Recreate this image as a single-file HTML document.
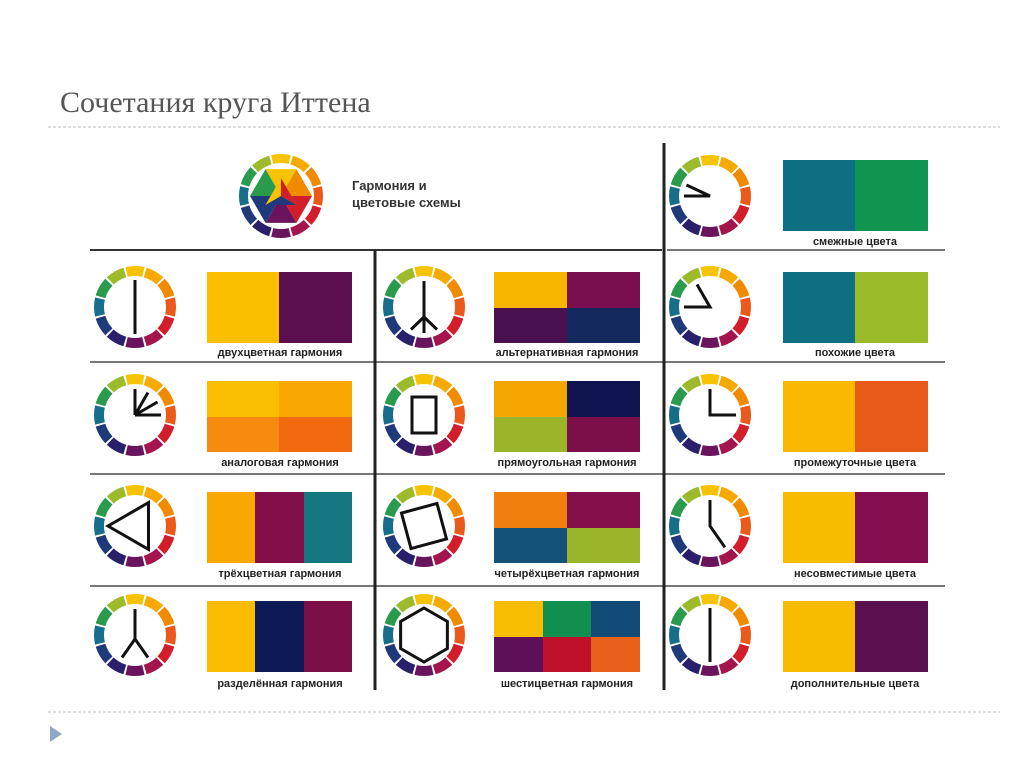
<!DOCTYPE html>
<html><head><meta charset="utf-8">
<style>
html,body{margin:0;padding:0;background:#fff;}
svg{display:block}
.l{font-family:"Liberation Sans",sans-serif;font-weight:bold;font-size:11px;fill:#222;text-anchor:middle}
</style></head><body>
<svg id="s" width="1024" height="767" xmlns="http://www.w3.org/2000/svg">
<text x="60" y="112" font-family="Liberation Serif, serif" font-size="30" fill="#555">Сочетания круга Иттена</text>
<line x1="48" y1="127" x2="1000" y2="127" stroke="#bbb" stroke-dasharray="3,2"/>
<line x1="48" y1="712" x2="1000" y2="712" stroke="#bbb" stroke-dasharray="3,2"/>
<polygon points="50,726 50,742 62,734" fill="#8fa8c8"/>
<g stroke-width="2">
<line x1="90" y1="250" x2="662" y2="250" stroke="#333"/>
<line x1="667" y1="250" x2="945" y2="250" stroke="#777"/>
<line x1="90" y1="362" x2="945" y2="362" stroke="#777"/>
<line x1="90" y1="474" x2="945" y2="474" stroke="#777"/>
<line x1="90" y1="586" x2="945" y2="586" stroke="#777"/>
<line x1="375" y1="250" x2="375" y2="690" stroke="#222" stroke-width="3"/>
<line x1="664" y1="143" x2="664" y2="690" stroke="#222" stroke-width="3"/>
</g>
<text x="352" y="190" font-family="Liberation Sans,sans-serif" font-weight="bold" font-size="13" fill="#333">Гармония и</text>
<text x="352" y="207" font-family="Liberation Sans,sans-serif" font-weight="bold" font-size="13" fill="#333">цветовые схемы</text>
<text class="l" x="280" y="356">двухцветная гармония</text>
<text class="l" x="280" y="466">аналоговая гармония</text>
<text class="l" x="280" y="577">трёхцветная гармония</text>
<text class="l" x="280" y="687">разделённая гармония</text>
<text class="l" x="567" y="356">альтернативная гармония</text>
<text class="l" x="567" y="466">прямоугольная гармония</text>
<text class="l" x="567" y="577">четырёхцветная гармония</text>
<text class="l" x="567" y="687">шестицветная гармония</text>
<text class="l" x="855" y="245">смежные цвета</text>
<text class="l" x="855" y="356">похожие цвета</text>
<text class="l" x="855" y="466">промежуточные цвета</text>
<text class="l" x="855" y="577">несовместимые цвета</text>
<text class="l" x="855" y="687">дополнительные цвета</text>
<g id="g"></g>
</svg>
<script>
var g=document.getElementById('g'),h='';
var C=['#f7c300','#f6a900','#f08b00','#ea5a1a','#d21d2a','#a3154c','#6a145e','#3b1f6e','#1f2f72','#175d85','#178a8a','#2c9a4a'];
C=['#f7c300','#f6a900','#f08b00','#ea5a1a','#d21d2a','#a3154c','#6a145e','#2a1f6a','#1f3a7a','#166e8a','#2a9a4c','#9dba2a'];
function P(cx,cy,r,a){a=a*Math.PI/180;return [cx+r*Math.sin(a),cy-r*Math.cos(a)];}
function wheel(cx,cy,ro,ri){for(var i=0;i<12;i++){var a0=i*30-15+1.5,a1=i*30+15-1.5;var p1=P(cx,cy,ro,a0),p2=P(cx,cy,ro,a1),p3=P(cx,cy,ri,a1),p4=P(cx,cy,ri,a0);
h+='<path d="M'+p1+'A'+ro+' '+ro+' 0 0 1 '+p2+'L'+p3+'A'+ri+' '+ri+' 0 0 0 '+p4+'Z" fill="'+C[i]+'"/>';}}
function pl(pts,close){h+='<'+(close?'polygon':'polyline')+' points="'+pts.map(function(p){return p.join(',')}).join(' ')+'" fill="none" stroke="#111" stroke-width="3" stroke-linejoin="miter"/>';}
function rect(x,y,w,hh,c){h+='<rect x="'+x+'" y="'+y+'" width="'+w+'" height="'+hh+'" fill="'+c+'"/>';}
// big wheel
wheel(281,196,42,33);
var bc=[[281,196]],hc=['#f7c300','#f08b00','#d21d2a','#6a145e','#1f3a7a','#2a9a4c'];
for(var i=0;i<6;i++){var a=P(281,196,31,i*60-30),b=P(281,196,31,i*60+30);h+='<polygon points="281,196 '+a+' '+b+'" fill="'+hc[i]+'"/>';}
h+='<polygon points="'+P(281,196,18,0)+' '+P(281,196,18,120)+' '+P(281,196,18,240)+'" fill="#f7c300"/>';
h+='<polygon points="281,196 '+P(281,196,18,120)+' '+P(281,196,18,240)+'" fill="#1f3a7a"/>';
h+='<polygon points="281,196 '+P(281,196,18,0)+' '+P(281,196,18,120)+'" fill="#d21d2a"/>';
var X1=135,X2=424,X3=710,Y=[307,415,526,635],r=29;
var ys=[Y[0],Y[1],Y[2],Y[3]];
[X1,X2].forEach(function(x){ys.forEach(function(y){wheel(x,y,41,31);});});
[196,307,415,526,635].forEach(function(y){wheel(X3,y,41,31);});
function c(x,y){return [x,y];}
// col1
pl([P(X1,Y[0],27,0),P(X1,Y[0],27,180)]);
[0,30,60,90].forEach(function(a){pl([c(X1,Y[1]),P(X1,Y[1],26,a)]);});
pl([P(X1,Y[2],27,30),P(X1,Y[2],27,150),P(X1,Y[2],27,270)],1);
pl([P(X1,Y[3],26,0),c(X1,Y[3]+4)]);pl([P(X1,Y[3],26,150),c(X1,Y[3]+4),P(X1,Y[3],26,210)]);
// col2
pl([P(X2,Y[0],26,0),c(X2,Y[0]+10)]);pl([P(X2,Y[0],26,150),c(X2,Y[0]+10),P(X2,Y[0],26,210)]);pl([c(X2,Y[0]+10),P(X2,Y[0],26,180)]);
h+='<rect x="'+(X2-12)+'" y="'+(Y[1]-18)+'" width="24" height="36" fill="none" stroke="#111" stroke-width="3"/>';
var sq=[];[30,120,210,300].forEach(function(a){sq.push(P(X2,Y[2],26,a-15+15));});pl(sq,1);
var hx=[];for(var i=0;i<6;i++)hx.push(P(X2,Y[3],27,i*60));pl(hx,1);
// col3
var Y3=[196,307,415,526,635];
pl([P(X3,Y3[0],26,295),c(X3,Y3[0]),P(X3,Y3[0],26,270)]);
pl([P(X3,Y3[1],26,330),c(X3,Y3[1]),P(X3,Y3[1],26,270)]);
pl([P(X3,Y3[2],26,0),c(X3,Y3[2]),P(X3,Y3[2],26,90)]);
pl([P(X3,Y3[3],26,0),c(X3,Y3[3]),P(X3,Y3[3],26,145)]);
pl([P(X3,Y3[4],27,0),P(X3,Y3[4],27,180)]);
// swatches
var A=207,B=494,D=783,W=145,H=71,T=[272,381,492,601];
rect(A,T[0],72,H,'#fbbf00');rect(A+72,T[0],73,H,'#5c0f4f');
rect(A,T[1],72,36,'#fbbd00');rect(A+72,T[1],73,36,'#f9a800');rect(A,T[1]+36,72,35,'#f68b0f');rect(A+72,T[1]+36,73,35,'#f26a0f');
rect(A,T[2],48,H,'#f9a800');rect(A+48,T[2],49,H,'#800f4a');rect(A+97,T[2],48,H,'#137680');
rect(A,T[3],48,H,'#fbbb00');rect(A+48,T[3],49,H,'#0e1a55');rect(A+97,T[3],48,H,'#7d0f48');
rect(B,T[0],73,36,'#f7b500');rect(B+73,T[0],73,36,'#7a0f4f');rect(B,T[0]+36,73,35,'#4a1150');rect(B+73,T[0]+36,73,35,'#142a5f');
rect(B,T[1],73,36,'#f5a500');rect(B+73,T[1],73,36,'#0e1350');rect(B,T[1]+36,73,35,'#9ab52a');rect(B+73,T[1]+36,73,35,'#7a0f4a');
rect(B,T[2],73,36,'#f07f10');rect(B+73,T[2],73,36,'#840f4a');rect(B,T[2]+36,73,35,'#14527a');rect(B+73,T[2]+36,73,35,'#9ab52a');
rect(B,T[3],49,36,'#f7bd00');rect(B+49,T[3],48,36,'#108f4e');rect(B+97,T[3],49,36,'#124a78');
rect(B,T[3]+36,49,35,'#5e0f5a');rect(B+49,T[3]+36,48,35,'#c0102a');rect(B+97,T[3]+36,49,35,'#e8601a');
rect(D,160,72,H,'#0f6f82');rect(D+72,160,73,H,'#0f9550');
rect(D,T[0],72,H,'#0f6f82');rect(D+72,T[0],73,H,'#9aba2a');
rect(D,T[1],72,H,'#fbb800');rect(D+72,T[1],73,H,'#e85a1a');
rect(D,T[2],72,H,'#f9bb00');rect(D+72,T[2],73,H,'#840f50');
rect(D,T[3],72,H,'#f9bb00');rect(D+72,T[3],73,H,'#5a0f4f');
g.innerHTML=h;
</script>
</body></html>
